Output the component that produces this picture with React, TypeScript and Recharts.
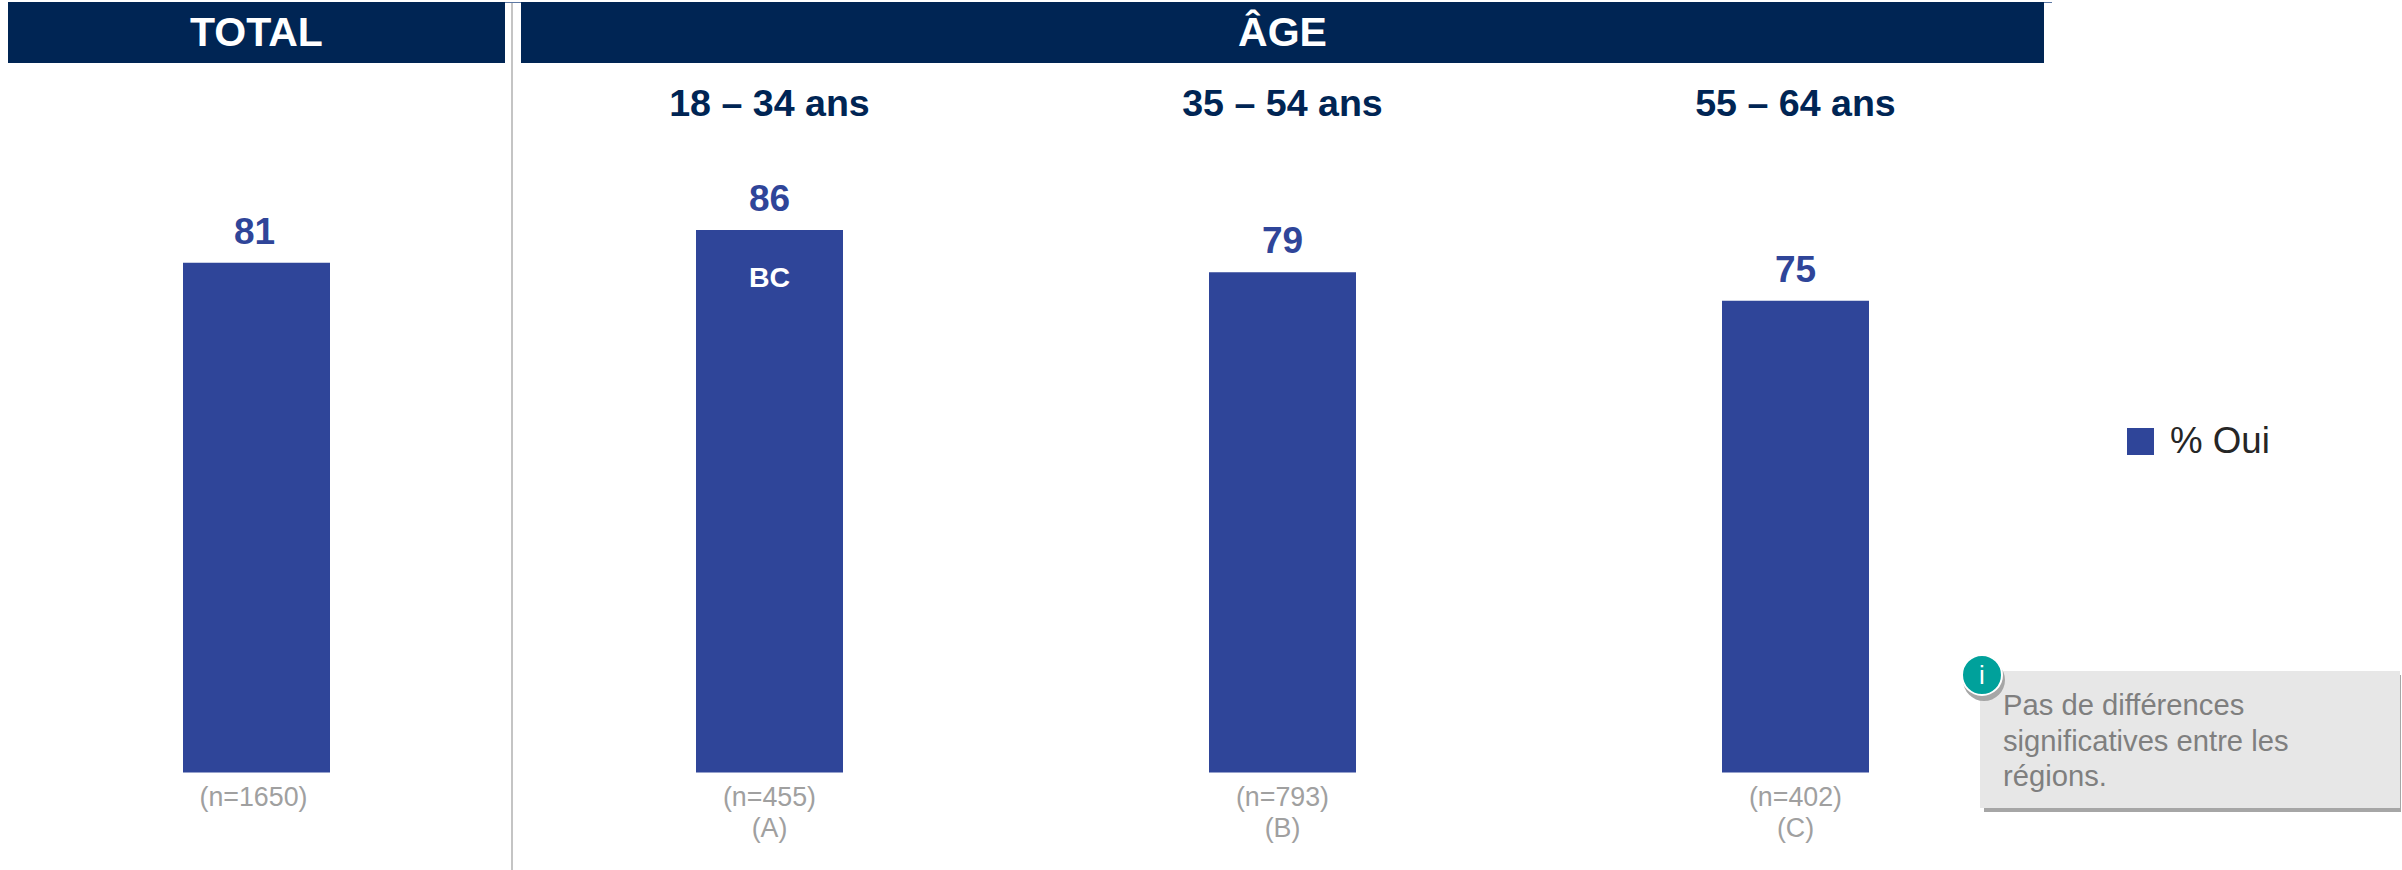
import { BarChart, Bar, XAxis, YAxis, LabelList, Legend } from 'recharts'

const categories = ['Total', '18 – 34 ans', '35 – 54 ans', '55 – 64 ans']
// bar heights, the printed labels are these rounded
const values = [80.9, 86.1, 79.4, 74.9]
const sampleSizes = ['(n=1650)', '(n=455)', '(n=793)', '(n=402)']
const groupLetters = ['', '(A)', '(B)', '(C)']
const sigLetters = ['', 'BC', '', '']
const ageLabels = ['18 – 34 ans', '35 – 54 ans', '55 – 64 ans']
const noteLines = ['Pas de différences', 'significatives entre les', 'régions.']
const seriesName = '% Oui'

const NAVY = '#002554'
const BLUE = '#2f4599'
const FONT = '"Liberation Sans", Arial, sans-serif'

const data = categories.map((name, i) => ({
  name,
  value: values[i],
  n: sampleSizes[i],
  letter: groupLetters[i],
  sig: sigLetters[i],
}))

function CategoryTick({ x, y, payload }: any) {
  const row = data[payload.index]
  // the total's caption sits slightly left of its bar in the original
  const cx = payload.index === 0 ? x - 3 : x
  return (
    <g fill="#a0a0a0" fontSize={26.8} fontFamily={FONT} textAnchor="middle">
      <text x={cx} y={y + 25}>{row.n}</text>
      {row.letter && <text x={cx} y={y + 56}>{row.letter}</text>}
    </g>
  )
}

function ValueLabel({ x, y, width, value, index }: any) {
  const cx = x + width / 2 - (index === 0 ? 2 : 0)
  return (
    <text x={cx} y={y - 19} textAnchor="middle" fill={BLUE} fontSize={37} fontWeight={700} fontFamily={FONT}>
      {Math.round(value)}
    </text>
  )
}

function SigLabel({ x, y, width, value }: any) {
  if (!value) return null
  return (
    <text x={x + width / 2} y={y + 57} textAnchor="middle" fill="#fff" fontSize={28.5} fontWeight={700} fontFamily={FONT}>
      {value}
    </text>
  )
}

function LegendBox({ payload }: any) {
  const item = payload?.[0]
  return (
    <div style={{ display: 'flex', alignItems: 'center', fontFamily: FONT, fontSize: 36.7, color: '#262626' }}>
      <span style={{ width: 27, height: 27, background: item?.color ?? BLUE, marginRight: 16 }} />
      <span style={{ lineHeight: '40px' }}>{item?.value}</span>
    </div>
  )
}

function Banner({ left, width, children }: any) {
  return (
    <div
      style={{
        position: 'absolute',
        left,
        top: 2,
        width,
        height: 61,
        background: NAVY,
        color: '#fff',
        fontFamily: FONT,
        fontWeight: 700,
        fontSize: 41,
        lineHeight: '61px',
        textAlign: 'center',
      }}
    >
      {children}
    </div>
  )
}

export default function App() {
  return (
    <div style={{ position: 'absolute', left: 0, top: 0, width: 2402, height: 870, background: '#fff', overflow: 'hidden' }}>
      <div style={{ position: 'absolute', left: 8, top: 2, width: 2044, height: 1, background: '#5d78a3' }} />
      <Banner left={8} width={497}>TOTAL</Banner>
      <Banner left={521} width={1523}>ÂGE</Banner>
      <div style={{ position: 'absolute', left: 511, top: 3, width: 2, height: 867, background: '#c4c4c4' }} />

      {ageLabels.map((label, i) => (
        <div
          key={label}
          style={{
            position: 'absolute',
            left: 513 + i * 513,
            width: 513,
            top: 81,
            textAlign: 'center',
            color: NAVY,
            fontFamily: FONT,
            fontWeight: 700,
            fontSize: 37.6,
            lineHeight: '44px',
          }}
        >
          {label}
        </div>
      ))}

      <div style={{ position: 'absolute', left: 0, top: 0 }}>
        <BarChart width={2402} height={870} data={data} margin={{ top: 142.5, right: 350, bottom: 0, left: 0 }} barCategoryGap={0}>
          <XAxis dataKey="name" height={97.5} axisLine={false} tickLine={false} interval={0} tick={<CategoryTick />} />
          <YAxis hide domain={[0, 100]} />
          <Legend
            layout="vertical"
            align="center"
            verticalAlign="middle"
            content={<LegendBox />}
            wrapperStyle={{ left: 2127, top: 421, width: 'auto', bottom: 'auto', right: 'auto' }}
          />
          <Bar dataKey="value" name={seriesName} fill={BLUE} barSize={147} isAnimationActive={false}>
            <LabelList dataKey="value" content={<ValueLabel />} />
            <LabelList dataKey="sig" content={<SigLabel />} />
          </Bar>
        </BarChart>
      </div>

      <div style={{ position: 'absolute', left: 1984, top: 675, width: 417, height: 137, background: '#a6a6a6' }} />
      <div
        style={{
          position: 'absolute',
          left: 1980,
          top: 671,
          width: 420,
          height: 137,
          boxSizing: 'border-box',
          padding: '17px 0 0 23px',
          background: '#e7e7e7',
          color: '#7f7f7f',
          fontFamily: FONT,
          fontSize: 29.2,
          lineHeight: '35.5px',
        }}
      >
        {noteLines.map((line) => (
          <div key={line}>{line}</div>
        ))}
      </div>
      <div style={{ position: 'absolute', left: 1963, top: 659, width: 42, height: 42, borderRadius: '50%', background: '#a6a6a6' }} />
      <div
        style={{
          position: 'absolute',
          left: 1961,
          top: 654,
          width: 38,
          height: 38,
          boxSizing: 'content-box',
          border: '2px solid #fff',
          borderRadius: '50%',
          background: '#00a19b',
          color: '#fff',
          fontFamily: FONT,
          fontSize: 26,
          lineHeight: '38px',
          textAlign: 'center',
        }}
      >
        i
      </div>
    </div>
  )
}
